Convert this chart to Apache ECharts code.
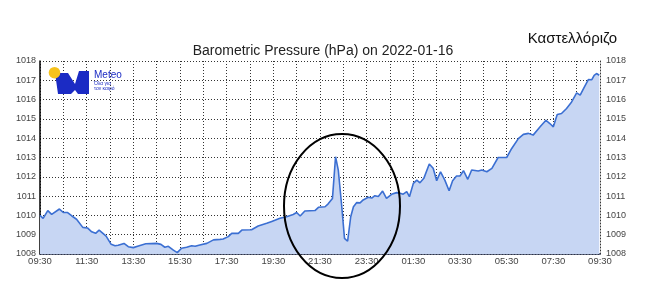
<!DOCTYPE html>
<html>
<head>
<meta charset="utf-8">
<script src="https://cdn.jsdelivr.net/npm/echarts@6/dist/echarts.min.js"></script>
<style>html,body{margin:0;padding:0;background:#fff}#c{width:657px;height:283px}</style>
</head>
<body>
<div id="c"></div>
<script>
// minutes after 09:30 (2022-01-16 09:30 -> 2022-01-17 09:30)
const minutesFromStart = [0,8,20,30,50,60,71,82,94,110,122,133,143,152,170,183,193,201,216,227,240,253,272,300,311,321,330,343,353,364,377,390,399,411,429,446,463,471,484,493,510,519,544,561,583,596,617,634,651,660,669,681,707,716,733,741,752,760,767,776,783,791,799,806,814,823,831,844,853,861,870,881,891,904,917,926,934,943,950,960,969,977,987,1001,1011,1020,1030,1041,1052,1061,1071,1080,1089,1100,1110,1127,1136,1149,1162,1178,1200,1213,1230,1243,1256,1268,1286,1301,1311,1320,1330,1341,1354,1367,1380,1389,1400,1410,1419,1425,1431,1438];
const pressure = [1010.0,1009.85,1010.25,1010.05,1010.33,1010.15,1010.15,1009.97,1009.8,1009.38,1009.35,1009.15,1009.07,1009.24,1008.93,1008.5,1008.43,1008.45,1008.55,1008.38,1008.33,1008.42,1008.53,1008.55,1008.5,1008.35,1008.4,1008.2,1008.07,1008.3,1008.35,1008.43,1008.4,1008.47,1008.55,1008.73,1008.76,1008.78,1008.9,1009.07,1009.07,1009.24,1009.26,1009.45,1009.59,1009.69,1009.85,1009.93,1010.05,1010.15,1009.97,1010.23,1010.25,1010.42,1010.45,1010.6,1010.88,1013.04,1012.35,1010.45,1008.81,1008.66,1009.93,1010.45,1010.66,1010.65,1010.8,1010.94,1010.9,1011.02,1010.98,1011.26,1010.88,1011.09,1011.18,1011.15,1011.1,1011.23,1010.97,1011.66,1011.83,1011.69,1011.92,1012.66,1012.44,1011.8,1012.26,1011.83,1011.28,1011.8,1012.04,1012.04,1012.32,1011.87,1012.35,1012.3,1012.35,1012.26,1012.44,1013.0,1013.0,1013.47,1013.98,1014.2,1014.25,1014.16,1014.59,1014.93,1014.76,1014.59,1015.23,1015.28,1015.54,1015.88,1016.35,1016.23,1016.66,1017.04,1017.03,1017.26,1017.35,1017.26];
const xTickLabels = ['09:30','11:30','13:30','15:30','17:30','19:30','21:30','23:30','01:30','03:30','05:30','07:30','09:30'];
const yMin = 1008, yMax = 1018;
const chartTitle = 'Barometric Pressure (hPa) on 2022-01-16';
const stationName = 'Καστελλόριζο';

const data = minutesFromStart.map((m, i) => [m, pressure[i]]);
const font = '"Liberation Sans", Arial, sans-serif';
const dotted = {show: true, lineStyle: {color: '#333', width: 1, type: [1, 2]}};
const yLabel = {fontSize: 9, color: '#444', fontFamily: font, formatter: v => String(v)};

const chart = echarts.init(document.getElementById('c'), null, {renderer: 'canvas'});
chart.setOption({
  animation: false,
  backgroundColor: '#fff',
  title: {
    text: chartTitle, left: 318, top: 39, textAlign: 'center',
    textStyle: {fontSize: 14, fontWeight: 'normal', color: '#222', fontFamily: font}
  },
  grid: {left: 40, right: 57, top: 61, bottom: 29, containLabel: false},
  xAxis: {
    type: 'value', min: 0, max: 1440, interval: 60,
    axisLine: {show: true, lineStyle: {color: '#2b3550', width: 1.5}},
    axisTick: {show: false},
    splitLine: dotted,
    axisLabel: {
      fontSize: 9.5, color: '#444', fontFamily: font, margin: 2,
      formatter: v => (v % 120 === 0 ? xTickLabels[v / 120] : '')
    }
  },
  yAxis: [
    {
      type: 'value', min: yMin, max: yMax, interval: 1, position: 'left',
      axisLine: {show: true, lineStyle: {color: '#000', width: 1.5}},
      axisTick: {show: false}, splitLine: dotted,
      axisLabel: Object.assign({margin: 4}, yLabel)
    },
    {
      type: 'value', min: yMin, max: yMax, interval: 1, position: 'right',
      axisLine: {show: true, lineStyle: {color: '#333', width: 1, type: [1, 2]}},
      axisTick: {show: false}, splitLine: {show: false},
      axisLabel: Object.assign({margin: 6}, yLabel)
    }
  ],
  series: [{
    type: 'line', data: data, showSymbol: false, yAxisIndex: 0,
    lineStyle: {color: '#3b6fd2', width: 1.6},
    areaStyle: {color: '#c7d6f3', opacity: 1},
    z: 1
  }],
  graphic: [
    {type: 'text', right: 40, top: 31, style: {text: stationName, fontSize: 15, fill: '#111', fontFamily: font}},
    {type: 'polygon', shape: {points: [[55,73],[68,73],[75,84],[79,71],[89,71],[89,94],[78,94],[75,90],[71,94],[58,94]]}, style: {fill: '#1b2bc4'}, z: 10},
    {type: 'circle', shape: {cx: 54.5, cy: 72.7, r: 5.8}, style: {fill: '#f6c21c'}, z: 11},
    {type: 'text', left: 94, top: 70, style: {text: 'Meteo', fontSize: 10, fill: '#1b2bc4', fontFamily: font}, z: 11},
    {type: 'text', left: 94, top: 81, style: {text: 'Όλα για', fontSize: 5, fill: '#1b2bc4', fontFamily: font}, z: 11},
    {type: 'text', left: 94, top: 86.5, style: {text: 'τον καιρό', fontSize: 5, fill: '#1b2bc4', fontFamily: font}, z: 11},
    {type: 'ellipse', shape: {cx: 342, cy: 206, rx: 58, ry: 72}, style: {fill: null, stroke: '#000', lineWidth: 2}, z: 20}
  ]
});
</script>
</body>
</html>
